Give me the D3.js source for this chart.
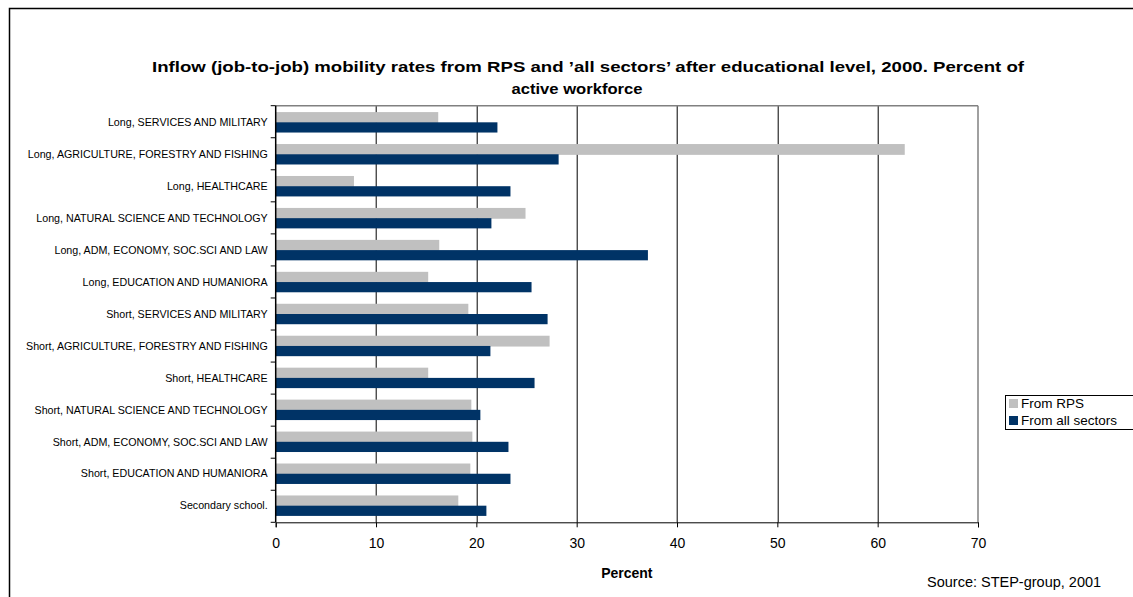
<!DOCTYPE html>
<html>
<head>
<meta charset="utf-8">
<script src="https://cdn.jsdelivr.net/npm/d3@7"></script>
<style>
  body { margin: 0; background: #fff; }
  text { font-family: "Liberation Sans", Arial, sans-serif; }
</style>
</head>
<body>
<div id="chart"></div>
<script>
// categories, top to bottom
var categories = [
  "Long, SERVICES AND MILITARY",
  "Long, AGRICULTURE, FORESTRY AND FISHING",
  "Long, HEALTHCARE",
  "Long, NATURAL SCIENCE AND TECHNOLOGY",
  "Long, ADM, ECONOMY, SOC.SCI AND LAW",
  "Long, EDUCATION AND HUMANIORA",
  "Short, SERVICES AND MILITARY",
  "Short, AGRICULTURE, FORESTRY AND FISHING",
  "Short, HEALTHCARE",
  "Short, NATURAL SCIENCE AND TECHNOLOGY",
  "Short, ADM, ECONOMY, SOC.SCI AND LAW",
  "Short, EDUCATION AND HUMANIORA",
  "Secondary school."
];
var fromRPS = [16.2, 62.7, 7.8, 24.9, 16.3, 15.2, 19.2, 27.3, 15.2, 19.5, 19.6, 19.4, 18.2];
var fromAll = [22.1, 28.2, 23.4, 21.5, 37.1, 25.5, 27.1, 21.4, 25.8, 20.4, 23.2, 23.4, 21.0];
var seriesNames = ["From RPS", "From all sectors"];
var seriesColors = ["#c0c0c0", "#003366"];
var xTicks = [0, 10, 20, 30, 40, 50, 60, 70];

var svgWidth = 1133, svgHeight = 597;
var margin = { top: 105.7, left: 275.7, right: 1133 - 978, bottom: 597 - 522.3 };
var width = svgWidth - margin.left - margin.right;
var height = svgHeight - margin.top - margin.bottom;

var svg = d3.select("#chart").append("svg")
  .attr("width", svgWidth)
  .attr("height", svgHeight);

// outer chart border
svg.append("rect")
  .attr("x", 9.5).attr("y", 8.5)
  .attr("width", 1140).attr("height", 600)
  .attr("fill", "none")
  .attr("stroke", "#000")
  .attr("stroke-width", 1.5);

// title
var title = svg.append("text")
  .attr("text-anchor", "middle")
  .attr("font-size", "15px")
  .attr("font-weight", "bold");
title.append("tspan").attr("x", 588).attr("y", 72)
  .attr("textLength", 872).attr("lengthAdjust", "spacingAndGlyphs")
  .text("Inflow (job-to-job) mobility rates from RPS and \u2019all sectors\u2019 after educational level, 2000. Percent of");
title.append("tspan").attr("x", 577).attr("y", 94)
  .attr("textLength", 131).attr("lengthAdjust", "spacingAndGlyphs")
  .text("active workforce");

var chartGroup = svg.append("g")
  .attr("transform", `translate(${margin.left}, ${margin.top})`);

var xScale = d3.scaleLinear().domain([0, 70]).range([0, width]);
var yScale = d3.scaleBand().domain(categories).range([0, height]).paddingInner(0.36).paddingOuter(0.2);
var subScale = d3.scaleBand().domain([0, 1]).range([0, yScale.bandwidth()]);

// gridlines
chartGroup.selectAll(".grid")
  .data(xTicks.slice(1, -1))
  .enter().append("line")
  .attr("x1", d => Math.round(xScale(d)) + 0.5)
  .attr("x2", d => Math.round(xScale(d)) + 0.5)
  .attr("y1", 0).attr("y2", height)
  .attr("stroke", "#000")
  .attr("stroke-width", 1);

// plot border top/right
chartGroup.append("line")
  .attr("x1", 0).attr("x2", width).attr("y1", 0).attr("y2", 0)
  .attr("stroke", "#808080").attr("stroke-width", 1.5);
chartGroup.append("line")
  .attr("x1", width).attr("x2", width).attr("y1", 0).attr("y2", height)
  .attr("stroke", "#808080").attr("stroke-width", 1.5);

// bars
var rows = categories.map((c, i) => ({ cat: c, vals: [fromRPS[i], fromAll[i]] }));
var groups = chartGroup.selectAll(".row")
  .data(rows)
  .enter().append("g")
  .attr("transform", d => `translate(0, ${yScale(d.cat)})`);

groups.selectAll("rect")
  .data(d => d.vals.map((v, j) => ({ v: v, j: j })))
  .enter().append("rect")
  .attr("x", 0)
  .attr("y", d => subScale(d.j))
  .attr("width", d => xScale(d.v))
  .attr("height", d => subScale.bandwidth() + (d.j === 0 ? 0.6 : 0))
  .attr("fill", d => seriesColors[d.j]);

// axes
var xAxis = d3.axisBottom(xScale).tickValues(xTicks).tickSize(5).tickPadding(11);
var gx = chartGroup.append("g")
  .attr("transform", `translate(0, ${height})`)
  .call(xAxis);
gx.select(".domain").attr("stroke", "#000");
gx.selectAll("text")
  .attr("font-family", "Liberation Sans, Arial, sans-serif")
  .attr("font-size", "14px").attr("fill", "#000");

var yTickPos = d3.range(categories.length + 1).map(i => i * height / categories.length);
chartGroup.append("line")
  .attr("x1", 0).attr("x2", 0).attr("y1", 0).attr("y2", height)
  .attr("stroke", "#000").attr("stroke-width", 1.5);
chartGroup.selectAll(".ytick")
  .data(yTickPos)
  .enter().append("line")
  .attr("x1", -5).attr("x2", 0)
  .attr("y1", d => d).attr("y2", d => d)
  .attr("stroke", "#000");

chartGroup.selectAll(".ylabel")
  .data(categories)
  .enter().append("text")
  .attr("x", -8)
  .attr("y", d => yScale(d) + yScale.bandwidth() / 2)
  .attr("dy", "0.35em")
  .attr("text-anchor", "end")
  .attr("font-size", "10.7px")
  .attr("fill", "#000")
  .text(d => d);

// x axis title
svg.append("text")
  .attr("x", margin.left + xScale(35))
  .attr("y", 578)
  .attr("text-anchor", "middle")
  .attr("font-size", "14px")
  .attr("font-weight", "bold")
  .text("Percent");

// source
svg.append("text")
  .attr("x", 927)
  .attr("y", 587)
  .attr("font-size", "14.5px")
  .text("Source: STEP-group, 2001");

// legend
var legend = svg.append("g").attr("transform", "translate(1005, 395)");
legend.append("rect")
  .attr("x", 0.5).attr("y", 0.5)
  .attr("width", 140).attr("height", 34)
  .attr("fill", "#fff").attr("stroke", "#000");
seriesNames.forEach(function(name, i) {
  legend.append("rect")
    .attr("x", 4).attr("y", 4 + i * 17)
    .attr("width", 9).attr("height", 9)
    .attr("fill", seriesColors[i]);
  legend.append("text")
    .attr("x", 16).attr("y", 13 + i * 17)
    .attr("font-size", "13.5px")
    .text(name);
});
</script>
</body>
</html>
